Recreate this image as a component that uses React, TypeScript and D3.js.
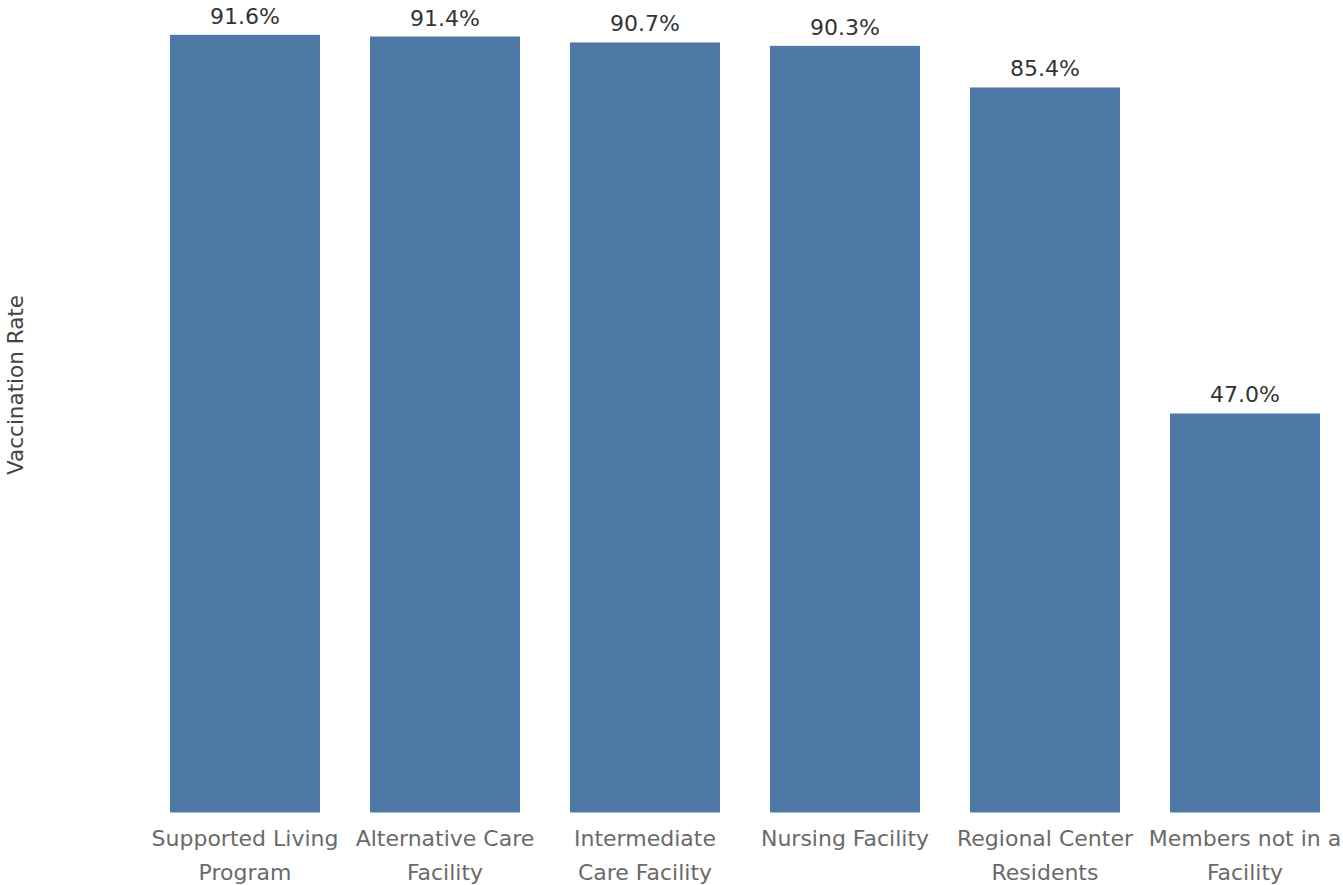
import { useCallback, useEffect, useRef } from "react";
import * as d3 from "d3";

const categories = [
  ["Supported Living", "Program"],
  ["Alternative Care", "Facility"],
  ["Intermediate", "Care Facility"],
  ["Nursing Facility"],
  ["Regional Center", "Residents"],
  ["Members not in a", "Facility"],
];
const rates = [91.6, 91.4, 90.7, 90.3, 85.4, 47.0];

export default function App() {
  const chart = useRef<SVGSVGElement | null>(null);
  const width = 1343;
  const height = 885;
  const margin = { top: 0, right: -2, bottom: 72.5, left: 145 };

  const drawChart = useCallback(() => {
    const svg = d3.select(chart.current);
    svg.selectAll("*").remove();

    const x = d3
      .scaleBand<number>()
      .domain(d3.range(rates.length))
      .range([margin.left, width - margin.right])
      .paddingInner(0.25)
      .paddingOuter(0.125);
    const y = d3.scaleLinear().domain([0, 95.7]).range([height - margin.bottom, margin.top]);

    svg
      .append("g")
      .selectAll("rect")
      .data(rates)
      .enter()
      .append("rect")
      .attr("x", (d, i) => x(i)!)
      .attr("y", (d) => y(d))
      .attr("width", x.bandwidth())
      .attr("height", (d) => y(0) - y(d))
      .attr("fill", "#4e79a7");

    svg
      .append("g")
      .selectAll("text")
      .data(rates)
      .enter()
      .append("text")
      .attr("x", (d, i) => x(i)! + x.bandwidth() / 2)
      .attr("y", (d) => y(d) - 11)
      .attr("text-anchor", "middle")
      .attr("fill", "#333333")
      .attr("font-size", "22px")
      .text((d) => `${d.toFixed(1)}%`);

    const labels = svg
      .append("g")
      .selectAll("text")
      .data(categories)
      .enter()
      .append("text")
      .attr("text-anchor", "middle")
      .attr("fill", "#6a6a6a")
      .attr("font-size", "22px");
    labels
      .selectAll("tspan")
      .data((d, i) => d.map((line) => ({ line, i })))
      .enter()
      .append("tspan")
      .attr("x", (d) => x(d.i)! + x.bandwidth() / 2)
      .attr("y", (d, j) => y(0) + 33 + j * 34)
      .text((d) => d.line);

    svg
      .append("text")
      .attr("transform", `translate(23,385) rotate(-90)`)
      .attr("text-anchor", "middle")
      .attr("fill", "#444444")
      .attr("font-size", "21.5px")
      .text("Vaccination Rate");
  }, [margin.left, margin.right, margin.top, margin.bottom]);

  useEffect(() => {
    drawChart();
  }, [drawChart]);

  return (
    <svg
      ref={chart}
      width={width}
      height={height}
      style={{ position: "absolute", left: 0, top: 0, fontFamily: "'DejaVu Sans', sans-serif", background: "#fff" }}
    ></svg>
  );
}
